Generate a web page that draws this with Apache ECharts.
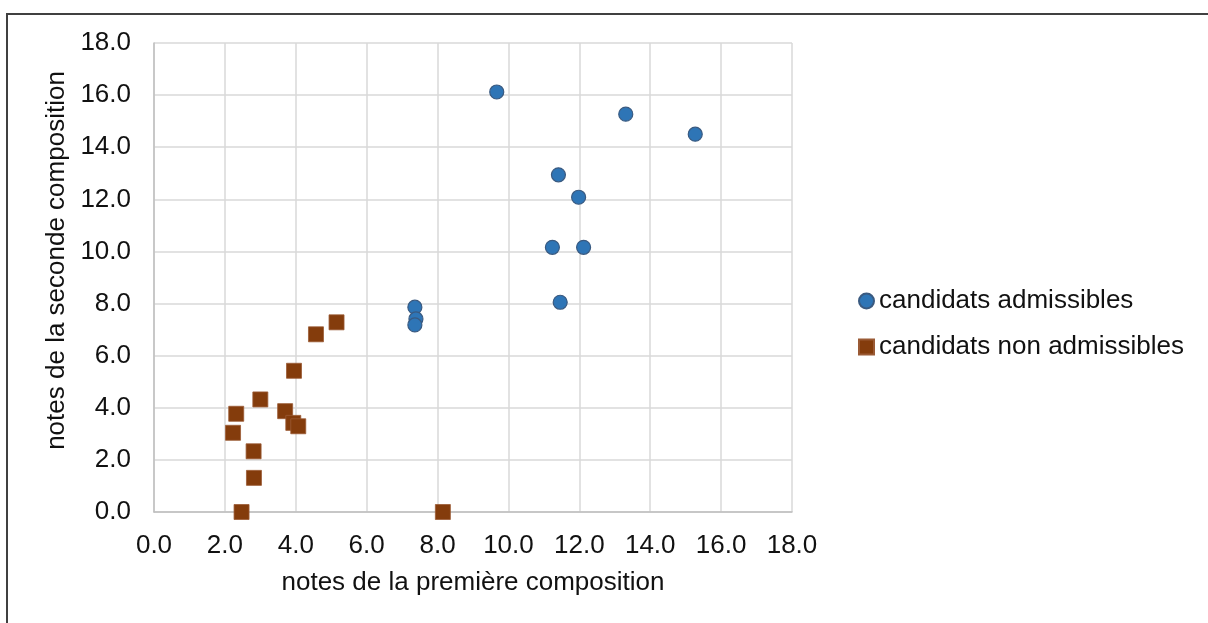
<!DOCTYPE html>
<html>
<head>
<meta charset="utf-8">
<script src="https://cdn.jsdelivr.net/npm/echarts@6/dist/echarts.min.js"></script>
<style>
html,body{margin:0;padding:0;background:#fff;}
#chart{width:1208px;height:623px;}
</style>
</head>
<body>
<div id="chart"></div>
<script>
// Data
const xTickLabels = ["0.0","2.0","4.0","6.0","8.0","10.0","12.0","14.0","16.0","18.0"];
const yTickLabels = ["0.0","2.0","4.0","6.0","8.0","10.0","12.0","14.0","16.0","18.0"];
const seriesNames = ["candidats admissibles", "candidats non admissibles"];

const admisX = [9.67, 13.31, 15.27, 11.41, 11.98, 11.24, 12.12, 11.46, 7.36, 7.39, 7.36];
const admisY = [16.12, 15.27, 14.50, 12.94, 12.08, 10.16, 10.16, 8.05, 7.86, 7.41, 7.18];

const nonAdmisX = [5.15, 4.57, 3.95, 3.00, 2.32, 2.23, 3.70, 3.93, 4.07, 2.81, 2.82, 2.47, 8.15];
const nonAdmisY = [7.28, 6.82, 5.42, 4.32, 3.77, 3.04, 3.87, 3.42, 3.29, 2.33, 1.31, 0.00, 0.00];

const xTitle = "notes de la première composition";
const yTitle = "notes de la seconde composition";

const pairs = (xs, ys) => xs.map((x, i) => [x, ys[i]]);
const FONT = '"Liberation Sans", Arial, sans-serif';

const chart = echarts.init(document.getElementById('chart'), null, {renderer: 'canvas'});
chart.setOption({
  animation: false,
  backgroundColor: '#ffffff',
  textStyle: {fontFamily: FONT, color: '#111'},
  graphic: [{
    type: 'rect',
    shape: {x: 7, y: 14, width: 1220, height: 640},
    style: {fill: 'none', stroke: '#404040', lineWidth: 2},
    silent: true
  }],
  grid: {left: 154, top: 43, right: 416, bottom: 111, containLabel: false},
  xAxis: {
    type: 'value', min: 0, max: 18, interval: 2,
    name: xTitle, nameLocation: 'middle', nameGap: 58,
    nameTextStyle: {fontSize: 26, color: '#111', fontFamily: FONT},
    axisLine: {show: true, lineStyle: {color: '#bfbfbf', width: 1.5}},
    axisTick: {show: false},
    axisLabel: {fontSize: 26, color: '#111', margin: 21, fontFamily: FONT,
      formatter: (v) => xTickLabels[Math.round(v / 2)]},
    splitLine: {show: true, lineStyle: {color: '#d9d9d9', width: 1.5}}
  },
  yAxis: {
    type: 'value', min: 0, max: 18, interval: 2,
    name: yTitle, nameLocation: 'middle', nameGap: 80, nameRotate: 90,
    nameTextStyle: {fontSize: 26, color: '#111', fontFamily: FONT, padding: [0, 0, 0, 34]},
    axisLine: {show: true, lineStyle: {color: '#bfbfbf', width: 1.5}},
    axisTick: {show: false},
    axisLabel: {fontSize: 26, color: '#111', margin: 23, fontFamily: FONT,
      formatter: (v) => yTickLabels[Math.round(v / 2)]},
    splitLine: {show: true, lineStyle: {color: '#d9d9d9', width: 1.5}}
  },
  legend: {
    orient: 'vertical', left: 858, top: 288, padding: 0,
    itemWidth: 15, itemHeight: 15, itemGap: 20,
    textStyle: {fontSize: 26, lineHeight: 26, color: '#111', fontFamily: FONT},
    data: [
      {name: seriesNames[0], icon: 'circle'},
      {name: seriesNames[1], icon: 'rect'}
    ]
  },
  series: [
    {
      name: seriesNames[0], type: 'scatter', symbol: 'circle', symbolSize: 14,
      itemStyle: {color: '#2e75b6', borderColor: '#3a5a80', borderWidth: 1.2, opacity: 1},
      data: pairs(admisX, admisY)
    },
    {
      name: seriesNames[1], type: 'scatter', symbol: 'rect', symbolSize: 15,
      itemStyle: {color: '#843c0c', borderColor: '#9a5a35', borderWidth: 0.8, opacity: 1},
      data: pairs(nonAdmisX, nonAdmisY)
    }
  ]
});
</script>
</body>
</html>
